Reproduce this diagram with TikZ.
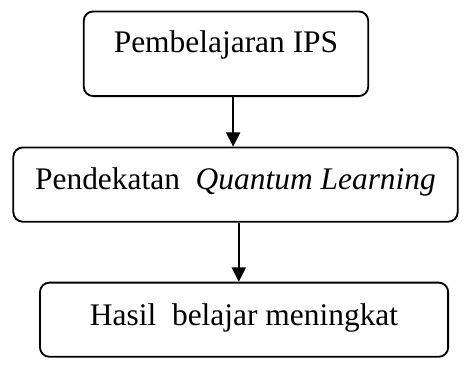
\documentclass[tikz,border=0pt]{standalone}
\usepackage{fontspec}
\setmainfont{Liberation Serif}
\usetikzlibrary{arrows.meta,positioning,calc}

\tikzset{
  flowbox/.style={draw,line width=1.1pt,rounded corners=0.2cm,align=center,
                  inner sep=0pt,font=\fontsize{18.8}{22}\selectfont},
  flowarrow/.style={-{Triangle[width=0.3cm,length=0.3cm]},line width=0.8pt}
}

\begin{document}
\begin{tikzpicture}
        \useasboundingbox (0,0) rectangle (9.9,-7.82);
        \node[flowbox,minimum width=5.98cm,minimum height=1.78cm,
              text height=0.86cm,text depth=0.92cm] (ips) at (4.75,-1.13)
              {Pembelajaran IPS};
        \node[flowbox,minimum width=9.34cm,minimum height=1.56cm,
              text height=0.88cm,text depth=0.68cm] (quantum) at (4.95,-3.88)
              {Pendekatan\ \ \textit{Quantum Learning}};
        \node[flowbox,minimum width=8.58cm,minimum height=1.56cm,
              text height=0.9cm,text depth=0.66cm] (hasil) at (5.13,-6.72)
              {Hasil\ \ belajar meningkat};

        \draw[flowarrow] ([xshift=0.15cm]ips.south)
              -- ([xshift=0.15cm]ips.south |- quantum.north);
        \draw[flowarrow] ([xshift=0.07cm]quantum.south)
              -- ([xshift=0.07cm]quantum.south |- hasil.north);
    \end{tikzpicture}
\end{document}
